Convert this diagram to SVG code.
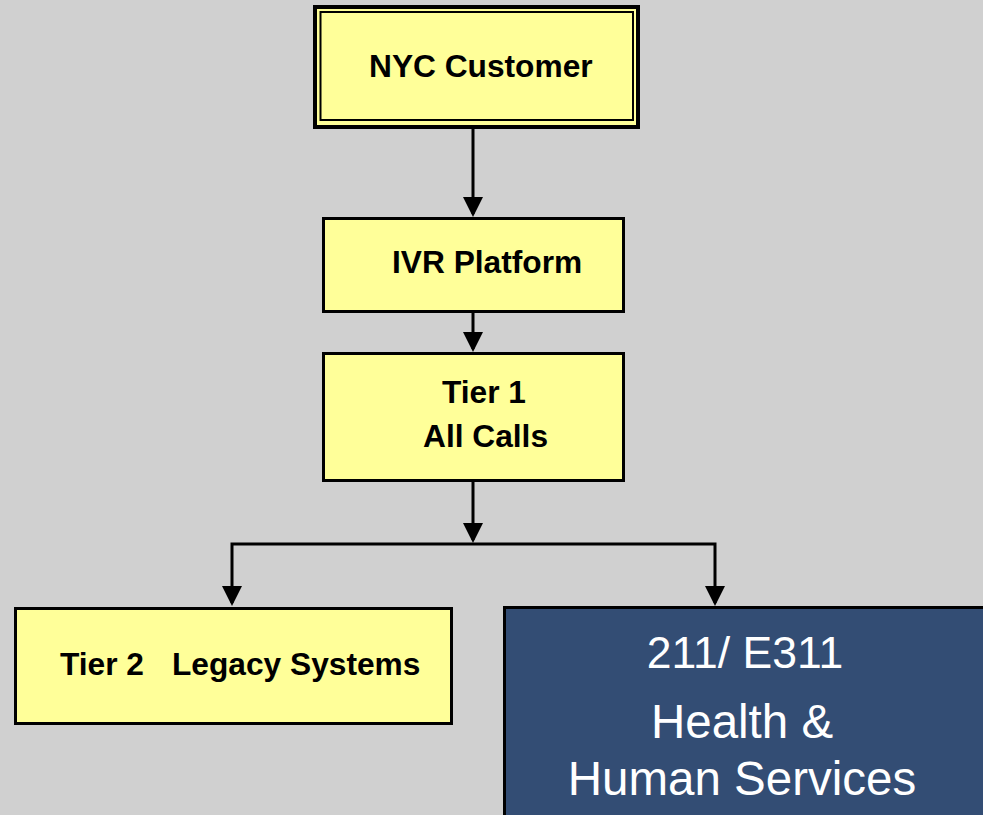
<svg xmlns="http://www.w3.org/2000/svg" width="983" height="815" viewBox="0 0 983 815">
  <style>
    .box { fill: #FFFF99; stroke: #000; stroke-width: 3; }
    .lbl { font-family: "Liberation Sans", Arial, sans-serif; font-weight: bold; font-size: 31.7px; fill: #000; }
    .wlbl { font-family: "Liberation Sans", Arial, sans-serif; font-size: 46px; fill: #fff; text-anchor: middle; }
    .conn { fill: none; stroke: #000; stroke-width: 3; }
  </style>
  <defs>
    <marker id="arrow" markerUnits="userSpaceOnUse" markerWidth="20" markerHeight="20" refX="17" refY="10" orient="auto-start-reverse">
      <path d="M0,0 L20,10 L0,20 z" fill="#000"/>
    </marker>
  </defs>

  <rect width="983" height="815" fill="#D0D0D0"/>

  <g id="connectors">
    <path class="conn" d="M473,128 V214" marker-end="url(#arrow)"/>
    <path class="conn" d="M473,313 V349" marker-end="url(#arrow)"/>
    <path class="conn" d="M473,481 V540" marker-end="url(#arrow)"/>
    <path class="conn" d="M232,603 V544 H715 V603" marker-start="url(#arrow)" marker-end="url(#arrow)"/>
  </g>

  <g id="nyc-customer">
    <rect x="315" y="7" width="323" height="120" fill="#FFFF99" stroke="#000" stroke-width="4"/>
    <rect x="320.5" y="12" width="312.5" height="108" fill="none" stroke="#000" stroke-width="2"/>
    <text class="lbl" x="369" y="77">NYC Customer</text>
  </g>

  <g id="ivr-platform">
    <rect class="box" x="323.5" y="218.5" width="300" height="93"/>
    <text class="lbl" x="392" y="273">IVR Platform</text>
  </g>

  <g id="tier1">
    <rect class="box" x="323.5" y="353.5" width="300" height="127"/>
    <text class="lbl" x="442" y="403">Tier 1</text>
    <text class="lbl" x="423" y="447">All Calls</text>
  </g>

  <g id="tier2">
    <rect class="box" x="15.5" y="608.5" width="436" height="115"/>
    <text class="lbl" y="675"><tspan x="60">Tier 2</tspan><tspan x="172">Legacy Systems</tspan></text>
  </g>

  <g id="hhs">
    <rect x="504.5" y="607.5" width="490" height="220" fill="#334D74" stroke="#000" stroke-width="3"/>
    <text class="wlbl" x="745" y="668" style="font-size:44.5px">211/ E311</text>
    <text class="wlbl" x="742" y="738" style="font-size:47.5px">Health &amp;</text>
    <text class="wlbl" x="742" y="795" style="font-size:47.5px">Human Services</text>
  </g>
</svg>
